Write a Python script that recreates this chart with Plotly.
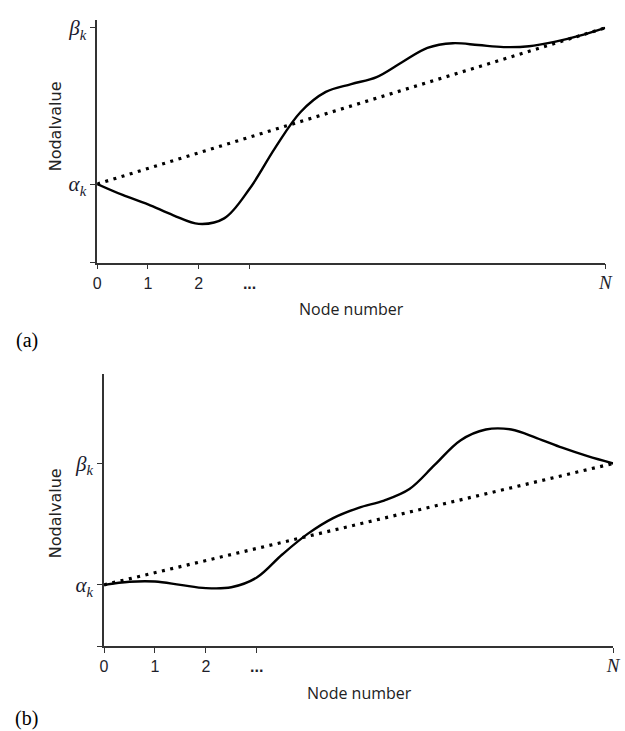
import plotly.graph_objects as go

W, H = 625, 731

# Node positions of the x axis: 0, 1, 2, "...", N
node_ticks = [0, 1, 2, 3, 10]
node_labels = ["0", "1", "2", "<b>...</b>",
               "<i><span style='font-family:Liberation Serif;font-size:19px'>N</span></i>"]

# Nodal values: alpha_k = 0, beta_k = 1
alpha_k, beta_k = 0.0, 1.0
value_ticks_a = [-0.503, alpha_k, beta_k]
value_ticks_b = [-0.508, alpha_k, beta_k]
value_labels = ["", "<i>α<sub>k</sub></i>", "<i>β<sub>k</sub></i>"]

# Panel (a): solution curve, every half node
xa = [0, 0.5, 1, 1.5, 2, 2.5, 3, 3.5, 4, 4.5, 5, 5.5, 6, 6.5, 7, 7.5, 8, 8.5, 9, 9.5, 10]
ya = [0, -0.07, -0.13, -0.20, -0.255, -0.22, -0.03, 0.23, 0.46, 0.59, 0.64, 0.685,
      0.78, 0.872, 0.902, 0.89, 0.877, 0.882, 0.91, 0.95, 1.0]

# Panel (b): solution curve, every half node
xb = [0, 0.5, 1, 1.5, 2, 2.5, 3, 3.5, 4, 4.5, 5, 5.5, 6, 6.5, 7, 7.5, 8, 8.5, 9, 9.5, 10]
yb = [0, 0.025, 0.027, 0.0, -0.027, -0.02, 0.06, 0.25, 0.42, 0.55, 0.635, 0.695,
      0.79, 0.99, 1.19, 1.28, 1.28, 1.21, 1.13, 1.06, 1.0]

# Straight line between the boundary values
x_lin = [0, 10]
y_lin = [alpha_k, beta_k]

fig = go.Figure()

solid = dict(color="black", width=2.4, shape="spline", smoothing=1.0)
dotted = dict(color="black", width=3.2, dash="3px,5.5px")

fig.add_trace(go.Scatter(x=x_lin, y=y_lin, mode="lines", line=dotted, xaxis="x", yaxis="y", showlegend=False))
fig.add_trace(go.Scatter(x=xa, y=ya, mode="lines", line=solid, xaxis="x", yaxis="y", showlegend=False))
fig.add_trace(go.Scatter(x=x_lin, y=y_lin, mode="lines", line=dotted, xaxis="x2", yaxis="y2", showlegend=False))
fig.add_trace(go.Scatter(x=xb, y=yb, mode="lines", line=solid, xaxis="x2", yaxis="y2", showlegend=False))


def px(v):
    return v / W


def py(v):
    return 1 - v / H


axis_common = dict(showgrid=False, zeroline=False, showline=True, linecolor="#333",
                   linewidth=1.6, ticks="outside", ticklen=5, tickwidth=1.4, tickcolor="#333")
xfont = dict(family="Liberation Sans, Arial", size=16, color="#1e1e2a")
yfont = dict(family="Liberation Serif, DejaVu Serif", size=21, color="#1a1a2e")

fig.update_layout(
    width=W, height=H,
    margin=dict(l=0, r=0, t=0, b=0),
    paper_bgcolor="white", plot_bgcolor="white",
    xaxis=dict(domain=[px(95), px(613)], range=[0, 10], anchor="y",
               tickvals=node_ticks, ticktext=node_labels, tickfont=xfont, **axis_common),
    yaxis=dict(domain=[py(260), py(16)], range=[-0.503, 1.051], anchor="x",
               tickvals=value_ticks_a, ticktext=value_labels, tickfont=yfont, **axis_common),
    xaxis2=dict(domain=[px(102), px(621)], range=[0, 10], anchor="y2",
                tickvals=node_ticks, ticktext=node_labels, tickfont=xfont, **axis_common),
    yaxis2=dict(domain=[py(646), py(372)], range=[-0.508, 1.738], anchor="x2",
                tickvals=value_ticks_b, ticktext=value_labels, tickfont=yfont, **axis_common),
)

title_font = dict(family="Open Sans, Lato, sans-serif", size=16, color="#222")
ylab_font = dict(family="DejaVu Sans, sans-serif", size=16, color="#222")
panel_font = dict(family="Liberation Serif, Times New Roman, serif", size=20, color="black")

annotations = [
    dict(text="Node number", x=px(354), y=py(307), font=title_font),
    dict(text="Node number", x=px(362), y=py(693), font=title_font),
    dict(text="Nodalvalue", x=px(52), y=py(123), font=ylab_font, textangle=-90),
    dict(text="Nodalvalue", x=px(52), y=py(512), font=ylab_font, textangle=-90),
    dict(text="(a)", x=px(23), y=py(338), font=panel_font),
    dict(text="(b)", x=px(23), y=py(718), font=panel_font),
]
for a in annotations:
    fig.add_annotation(xref="paper", yref="paper", showarrow=False,
                       xanchor="center", yanchor="middle", **a)

fig.write_html("out.html")
